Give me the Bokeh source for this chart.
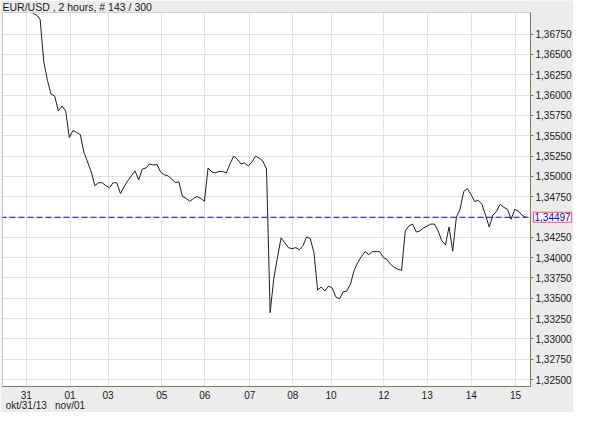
from bokeh.plotting import figure
from bokeh.models import (Range1d, FixedTicker, CustomJSTickFormatter, Span, Label,
                          LinearAxis, BoxAnnotation)
from bokeh.embed import file_html
from bokeh.resources import INLINE

title_text = "EUR/USD , 2 hours, # 143 / 300"

close = [
    1.37005, 1.36986, 1.36932, 1.36411, 1.36181, 1.36011, 1.35987, 1.35806, 1.35866, 1.35806,
    1.35479, 1.35564, 1.35539, 1.35515, 1.35297, 1.35176, 1.35055, 1.34886, 1.34922, 1.34922,
    1.34886, 1.34861, 1.34922, 1.34922, 1.34789, 1.34873, 1.34946, 1.35007, 1.35067, 1.34958,
    1.35091, 1.35103, 1.35152, 1.35140, 1.35146, 1.35055, 1.35019, 1.35007, 1.34970, 1.34922,
    1.34934, 1.34752, 1.34728, 1.34692, 1.34728, 1.34752, 1.34728, 1.34692, 1.35103, 1.35055,
    1.35043, 1.35061, 1.35061, 1.35043, 1.35152, 1.35249, 1.35212, 1.35152, 1.35164, 1.35128,
    1.35176, 1.35249, 1.35225, 1.35188, 1.35091, 1.33324, 1.33747, 1.34002, 1.34244, 1.34183,
    1.34123, 1.34111, 1.34123, 1.34099, 1.34147, 1.34256, 1.34232, 1.34062, 1.33602, 1.33639,
    1.33590, 1.33651, 1.33626, 1.33517, 1.33493, 1.33578, 1.33590, 1.33675, 1.33844, 1.33941,
    1.34014, 1.34074, 1.34038, 1.34074, 1.34074, 1.34074, 1.34002, 1.33977, 1.33917, 1.33881,
    1.33856, 1.33844, 1.34329, 1.34389, 1.34413, 1.34316, 1.34329, 1.34365, 1.34389, 1.34413,
    1.34413, 1.34329, 1.34208, 1.34159, 1.34377, 1.34080, 1.34498, 1.34595, 1.34813, 1.34849,
    1.34777, 1.34692, 1.34704, 1.34655, 1.34522, 1.34377, 1.34522, 1.34571, 1.34655, 1.34619,
    1.34595, 1.34474, 1.34595, 1.34571, 1.34522, 1.34497,
]
bar_index = list(range(len(close)))

day_tick_pos = [-1.8, 10.2, 20.6, 35.3, 47.1, 59.4, 71.2, 81.7, 96.1, 108.0, 120.1, 132.2]
day_tick_labels = ["31", "01", "03", "05", "06", "07", "08", "10", "12", "13", "14", "15"]

date_row_pos = [-1.8, 10.2]
date_row_labels = ["okt/31/13", "nov/01"]

price_ticks = [1.3250, 1.3275, 1.3300, 1.3325, 1.3350, 1.3375, 1.3400, 1.3425, 1.3450,
               1.3475, 1.3500, 1.3525, 1.3550, 1.3575, 1.3600, 1.3625, 1.3650, 1.3675]
price_tick_labelled = [t for t in price_ticks if abs(t - 1.3450) > 1e-9]

last_price = 1.34497
last_price_text = "1,34497"

# ---- layout constants (pixels of the 573 x 412 canvas) ----
W, H = 573, 412
X0, X1 = -8.3, 136.3            # data x at the plot-area edges
Y0, Y1 = 1.32415, 1.37016       # data y at the plot-area edges
PL, PR, PT, PB = 2, 530, 12, 386  # plot-area edges in canvas px
sx = (PR - PL) / (X1 - X0)
sy = (PB - PT) / (Y1 - Y0)
xr = Range1d(X0 - PL / sx, X1 + (W - PR) / sx)
yr = Range1d(Y0 - (H - PB) / sy, Y1 + PT / sy)

FONT = "Liberation Sans"
OLIVE = "#7c7c5c"
GRID = "#e2e2e2"
PANEL = "#ececec"
TXT = "#1a1a1a"

p = figure(width=W, height=H, output_backend="svg", toolbar_location=None,
           x_range=xr, y_range=yr, x_axis_location=None, y_axis_location=None,
           min_border=0, min_border_left=0, min_border_right=0,
           min_border_top=0, min_border_bottom=0)
p.background_fill_color = "white"
p.border_fill_color = PANEL
p.outline_line_color = None

# grid
p.xgrid.ticker = FixedTicker(ticks=day_tick_pos)
p.ygrid.ticker = FixedTicker(ticks=price_ticks)
p.xgrid.grid_line_color = GRID
p.ygrid.grid_line_color = GRID

# last price line
p.add_layout(Span(location=last_price, dimension="width", line_color="#0000ff",
                  line_width=1, line_dash="6 3", level="underlay"))

# grey panels around the plot area
for kw in (dict(right=X0), dict(left=X1), dict(top=Y0), dict(bottom=Y1)):
    p.add_layout(BoxAnnotation(fill_color=PANEL, fill_alpha=1, line_color=None,
                               level="underlay", **kw))
p.add_layout(BoxAnnotation(left=X0, right=X1, bottom=Y0, top=Y1, fill_alpha=0,
                           line_color=OLIVE, line_width=1, level="underlay"))

# price series
p.line(bar_index, close, line_color="#1e1e1e", line_width=1)

# axes
xa = LinearAxis(fixed_location=Y0, bounds=(X0, X1))
xa.ticker = FixedTicker(ticks=day_tick_pos)
xa.major_label_overrides = {pos: lab for pos, lab in zip(day_tick_pos, day_tick_labels)}
xa.major_tick_out = 0
xa.major_tick_in = 0
xa.minor_tick_line_color = None
xa.axis_line_color = OLIVE
xa.major_label_text_font = FONT
xa.major_label_text_font_size = "10px"
xa.major_label_text_color = TXT
xa.major_label_standoff = 4
p.add_layout(xa, "below")

ya = LinearAxis(fixed_location=X1, bounds=(Y0, Y1))
ya.ticker = FixedTicker(ticks=price_tick_labelled)
ya.formatter = CustomJSTickFormatter(code="return tick.toFixed(5).replace('.', ',');")
ya.major_tick_out = 3
ya.major_tick_in = 0
ya.major_tick_line_color = OLIVE
ya.minor_tick_line_color = None
ya.axis_line_color = OLIVE
ya.major_label_text_font = FONT
ya.major_label_text_font_size = "10px"
ya.major_label_text_color = TXT
ya.major_label_standoff = 2
p.add_layout(ya, "right")

# title
p.add_layout(Label(x=X0, y=Y1 + (PT - 6) / sy, text=title_text, text_font=FONT,
                   text_font_size="10.5px", text_color=TXT, text_align="left",
                   text_baseline="middle"))

# last price tag on the price axis
p.add_layout(Label(x=X1 + 3 / sx, y=last_price, text=last_price_text, text_color="#0000ff",
                   text_font=FONT, text_font_size="10px", text_baseline="middle",
                   text_align="left", border_line_color="#ff5050",
                   background_fill_color="white", padding=1))

# second date row under the day labels
for pos, lab in zip(date_row_pos, date_row_labels):
    p.add_layout(Label(x=pos, y=Y0 - 19 / sy, text=lab, text_font=FONT,
                       text_font_size="10px", text_color=TXT, text_align="center",
                       text_baseline="middle"))

open("out.html", "w").write(file_html(p, INLINE))
